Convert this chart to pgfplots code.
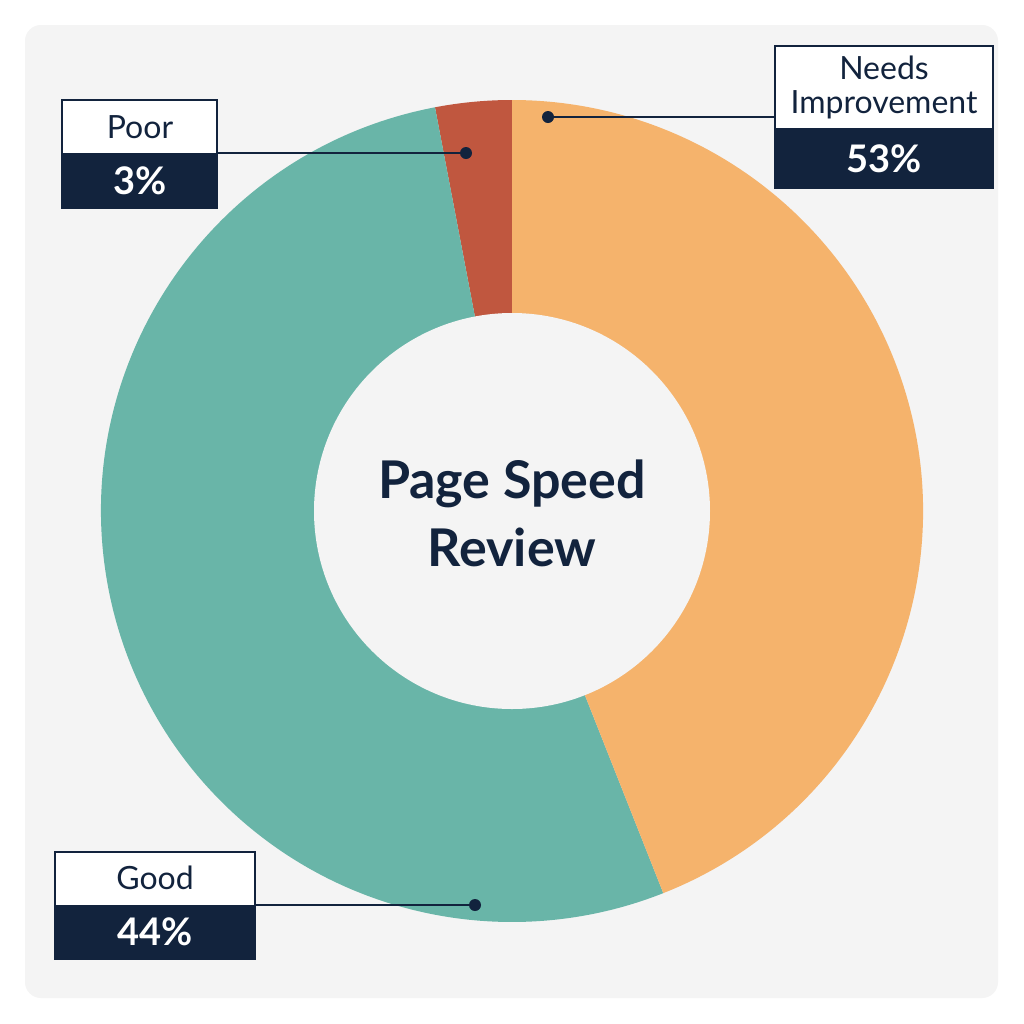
\documentclass[border=0pt]{standalone}
\usepackage{fontspec}
\setmainfont{Lato}
\usepackage{pgfplots}
\pgfplotsset{compat=1.18}
\definecolor{bgc}{HTML}{F4F4F4}
\definecolor{cOrange}{HTML}{F5B36C}
\definecolor{cTeal}{HTML}{69B5A8}
\definecolor{cRed}{HTML}{C0573F}
\definecolor{navy}{HTML}{12233D}
% shares (percent of the ring), clockwise from the top
\def\shareRed{3}
\def\shareTeal{53}
\def\shareOrange{44}
\begin{document}
\begin{tikzpicture}
\begin{axis}[
  x=0.5pt, y=0.5pt, xmin=0, xmax=1024, ymin=0, ymax=1024,
  y dir=reverse, axis lines=none, clip=false, scale only axis,
]
\pgfmathsetmacro{\aA}{90}
\pgfmathsetmacro{\aB}{90+\shareRed*3.6}
\pgfmathsetmacro{\aC}{\aB+\shareTeal*3.6}
\pgfmathsetmacro{\aD}{\aC+\shareOrange*3.6}
\fill[white] (axis cs:0,0) rectangle (axis cs:1024,1024);
\fill[bgc, rounded corners=8pt] (axis cs:25,25) rectangle (axis cs:998,998);
\fill[cRed] (axis cs:512,511) -- ++(\aA:205.5pt) arc[start angle=\aA, end angle=\aB, radius=205.5pt] -- cycle;
\fill[cTeal] (axis cs:512,511) -- ++(\aB:205.5pt) arc[start angle=\aB, end angle=\aC, radius=205.5pt] -- cycle;
\fill[cOrange] (axis cs:512,511) -- ++(\aC:205.5pt) arc[start angle=\aC, end angle=\aD, radius=205.5pt] -- cycle;
\fill[bgc] (axis cs:512,511) circle[radius=99pt];
\node[text=navy, font=\fontsize{26}{34}\selectfont\bfseries, align=center] at (axis cs:512,513) {Page Speed\\Review};
% leaders
\draw[navy, line width=0.75pt] (axis cs:775,117) -- (axis cs:548,117);
\fill[navy] (axis cs:548,117) circle[radius=3pt];
\draw[navy, line width=0.75pt] (axis cs:217,153) -- (axis cs:466,153);
\fill[navy] (axis cs:466,153) circle[radius=3pt];
\draw[navy, line width=0.75pt] (axis cs:255,905) -- (axis cs:475,905);
\fill[navy] (axis cs:475,905) circle[radius=3pt];
% Needs Improvement box
\fill[white] (axis cs:775,46) rectangle (axis cs:993,128);
\fill[navy] (axis cs:775,128) rectangle (axis cs:993,188);
\draw[navy, line width=0.8pt] (axis cs:775,46) rectangle (axis cs:993,188);
\node[text=navy, font=\fontsize{16}{17}\selectfont, align=center] at (axis cs:884,87) {Needs\\Improvement};
\node[text=white, font=\fontsize{19}{20}\selectfont\bfseries] at (axis cs:884,159) {53\%};
% Poor box
\fill[white] (axis cs:62,100) rectangle (axis cs:217,153);
\fill[navy] (axis cs:62,153) rectangle (axis cs:217,208);
\draw[navy, line width=0.8pt] (axis cs:62,100) rectangle (axis cs:217,208);
\node[text=navy, font=\fontsize{16}{17}\selectfont] at (axis cs:140,127) {Poor};
\node[text=white, font=\fontsize{19}{20}\selectfont\bfseries] at (axis cs:140,181) {3\%};
% Good box
\fill[white] (axis cs:55,852) rectangle (axis cs:255,905);
\fill[navy] (axis cs:55,905) rectangle (axis cs:255,959);
\draw[navy, line width=0.8pt] (axis cs:55,852) rectangle (axis cs:255,959);
\node[text=navy, font=\fontsize{16}{17}\selectfont] at (axis cs:155,878) {Good};
\node[text=white, font=\fontsize{19}{20}\selectfont\bfseries] at (axis cs:155,932) {44\%};
\end{axis}
\end{tikzpicture}
\end{document}
